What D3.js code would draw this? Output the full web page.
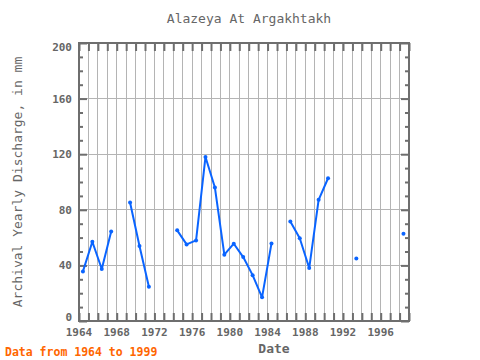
<!DOCTYPE html>
<html>
<head>
<meta charset="utf-8">
<script src="https://cdn.jsdelivr.net/npm/d3@7/dist/d3.min.js"></script>
<style>
  html, body { margin: 0; padding: 0; background: #fff; }
  svg { display: block; }
  text { font-family: "DejaVu Sans Mono", "Liberation Mono", monospace; }
</style>
</head>
<body>
<svg id="chart" width="480" height="360"></svg>
<script>
// ---- data ----
const years = [1964,1965,1966,1967,1968,1969,1970,1971,1972,1973,1974,1975,1976,1977,1978,1979,1980,1981,
               1982,1983,1984,1985,1986,1987,1988,1989,1990,1991,1992,1993,1994,1995,1996,1997,1998];
const discharge = [35.7,57,37.4,64.4,null,85.2,54,24.7,null,null,65.2,55.1,58,118,96,47.7,55.6,46,
                   33,17,55.8,null,71.6,59.5,38.1,87.2,102.7,null,null,45,null,null,null,null,62.8];
const xTickLabels = ["1964","1968","1972","1976","1980","1984","1988","1992","1996"];
const yTickLabels = ["0","40","80","120","160","200"];
const titleText = "Alazeya At Argakhtakh";
const yTitle = "Archival Yearly Discharge, in mm";
const xTitle = "Date";
const noteText = "Data from 1964 to 1999";

// ---- layout ----
const L = 79, R = 409, T = 43, B = 321;
const svg = d3.select("#chart");
const x = d3.scaleTime().domain([new Date(1964,0,1), new Date(1999,0,1)]).range([L, R]);
const y = d3.scaleLinear().domain([0, 200]).range([B, T]);
const axisCol = "#6e6e6e", gridCol = "#b4b4b4", textCol = "#666666";

const data = years.map((yr, i) => ({date: new Date(yr, 5, 1), v: discharge[i]}));

// grid
const yearTicks = d3.range(1964, 2000).map(yr => new Date(yr, 0, 1));
svg.append("g").selectAll("line").data(yearTicks.slice(1, -1)).join("line")
  .attr("x1", d => x(d)).attr("x2", d => x(d)).attr("y1", T).attr("y2", B)
  .attr("stroke", gridCol).attr("stroke-width", 1).attr("shape-rendering", "crispEdges");
const yMajor = yTickLabels.map(Number);
svg.append("g").selectAll("line").data(yMajor.slice(1, -1)).join("line")
  .attr("x1", L).attr("x2", R).attr("y1", d => y(d)).attr("y2", d => y(d))
  .attr("stroke", gridCol).attr("stroke-width", 1).attr("shape-rendering", "crispEdges");

// ticks via axes
const yMinor = d3.range(0, 201, 10);
const gxB = svg.append("g").attr("transform", `translate(0,${B})`)
  .call(d3.axisTop(x).tickValues(yearTicks).tickSize(8).tickFormat(""));
const gxT = svg.append("g").attr("transform", `translate(0,${T})`)
  .call(d3.axisBottom(x).tickValues(yearTicks).tickSize(8).tickFormat(""));
const gyL = svg.append("g").attr("transform", `translate(${L},0)`)
  .call(d3.axisRight(y).tickValues(yMinor).tickSize(4).tickFormat(""));
const gyR = svg.append("g").attr("transform", `translate(${R},0)`)
  .call(d3.axisLeft(y).tickValues(yMinor).tickSize(4).tickFormat(""));
gyL.selectAll(".tick line").filter(d => d % 40 === 0).attr("x2", 8);
gyR.selectAll(".tick line").filter(d => d % 40 === 0).attr("x2", -8);
[gxB, gxT, gyL, gyR].forEach(g => {
  g.select(".domain").remove();
  g.selectAll(".tick line").attr("stroke", axisCol).attr("stroke-width", 2);
});

// frame
svg.append("rect").attr("x", L).attr("y", T).attr("width", R - L).attr("height", B - T)
  .attr("fill", "none").attr("stroke", axisCol).attr("stroke-width", 2);

// tick labels
svg.append("g").selectAll("text").data(xTickLabels).join("text")
  .attr("x", d => x(new Date(+d, 0, 1))).attr("y", 336)
  .attr("text-anchor", "middle").attr("font-size", 11).attr("font-weight", "bold")
  .attr("fill", textCol).text(d => d);
svg.append("g").selectAll("text").data(yTickLabels).join("text")
  .attr("x", 72).attr("y", d => Math.min(y(0) - 4, Math.max(y(200) + 4, y(+d))) + 4)
  .attr("text-anchor", "end").attr("font-size", 11).attr("font-weight", "bold")
  .attr("fill", textCol).text(d => d);

// line
const line = d3.line().defined(d => d.v !== null).x(d => x(d.date)).y(d => y(d.v));
svg.append("path").datum(data).attr("d", line)
  .attr("fill", "none").attr("stroke", "#0a64ff").attr("stroke-width", 2).attr("stroke-linejoin", "round");
svg.append("g").selectAll("circle").data(data.filter(d => d.v !== null)).join("circle")
  .attr("cx", d => x(d.date)).attr("cy", d => y(d.v)).attr("r", 2).attr("fill", "#0a64ff");

// titles
svg.append("text").attr("x", 249).attr("y", 23).attr("text-anchor", "middle")
  .attr("font-size", 13).attr("fill", textCol).text(titleText);
svg.append("text").attr("transform", "translate(22,182) rotate(-90)").attr("text-anchor", "middle")
  .attr("font-size", 13).attr("fill", textCol).text(yTitle);
svg.append("text").attr("x", 274).attr("y", 353).attr("text-anchor", "middle")
  .attr("font-size", 13).attr("font-weight", "bold").attr("fill", textCol).text(xTitle);
svg.append("text").attr("x", 5).attr("y", 356)
  .attr("font-size", 11.5).attr("font-weight", "bold").attr("fill", "#ff6600").text(noteText);
</script>
</body>
</html>
